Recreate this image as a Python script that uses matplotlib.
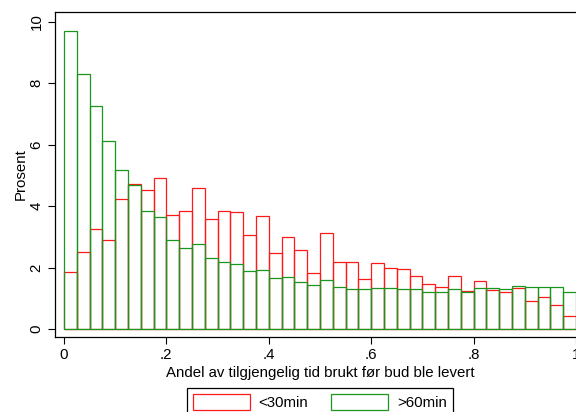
## overlaid histograms: share of available time used before bid was delivered
import numpy as np
import matplotlib.pyplot as plt
from matplotlib.patches import Patch

plt.rcParams['font.family'] = ['Liberation Sans', 'DejaVu Sans']

## bins (width .025 from 0 to 1)
bin_width = 0.025
bin_left  = np.arange(40)*bin_width

## percent per bin
pct_lt30 = [1.86, 2.50, 3.26, 2.89, 4.23, 4.73, 4.53, 4.92, 3.72, 3.83,
            4.59, 3.57, 3.83, 3.80, 3.07, 3.69, 2.48, 2.99, 2.56, 1.83,
            3.12, 2.17, 2.17, 1.63, 2.16, 2.00, 1.96, 1.74, 1.46, 1.36,
            1.72, 1.25, 1.56, 1.27, 1.22, 1.32, 0.91, 1.04, 0.78, 0.42]
pct_gt60 = [9.69, 8.31, 7.25, 6.12, 5.18, 4.69, 3.85, 3.64, 2.90, 2.64,
            2.76, 2.32, 2.19, 2.13, 1.90, 1.92, 1.67, 1.69, 1.53, 1.42,
            1.59, 1.38, 1.31, 1.29, 1.34, 1.34, 1.29, 1.29, 1.22, 1.22,
            1.29, 1.22, 1.32, 1.35, 1.29, 1.39, 1.36, 1.36, 1.38, 1.19]

series_names = ['<30min', '>60min']
red   = '#ff1a1a'
green = '#1a961f'

xticks      = [0, 0.2, 0.4, 0.6, 0.8, 1.0]
xticklabels = ['0', '.2', '.4', '.6', '.8', '1']
yticks      = [0, 2, 4, 6, 8, 10]

fs = 10.8

fig = plt.figure(figsize=(5.76, 4.12), dpi=100)
ax = fig.add_axes([0.095, 0.182, 0.921, 0.789])

ax.bar(bin_left, pct_lt30, width=bin_width, align='edge', fill=False,
       edgecolor=red, linewidth=0.9)
ax.bar(bin_left, pct_gt60, width=bin_width, align='edge', fill=False,
       edgecolor=green, linewidth=0.9)

ax.set_xlim(-0.018, 1.018)
ax.set_ylim(-0.26, 10.32)
ax.set_xticks(xticks)
ax.set_xticklabels(xticklabels)
ax.set_yticks(yticks)
ax.tick_params(axis='y', labelrotation=90, labelsize=fs, length=5, width=0.8, pad=3)
ax.tick_params(axis='x', labelsize=fs, length=5, width=0.8, pad=3)
for lab in ax.get_yticklabels():
    lab.set_va('center')
ax.set_xlabel('Andel av tilgjengelig tid brukt før bud ble levert', fontsize=fs, labelpad=3)
ax.set_ylabel('Prosent', fontsize=fs, labelpad=1)
for s in ax.spines.values():
    s.set_linewidth(0.9)

handles = [Patch(facecolor='none', edgecolor=red, linewidth=0.9),
           Patch(facecolor='none', edgecolor=green, linewidth=0.9)]
leg = fig.legend(handles, series_names, loc='upper center',
                 bbox_to_anchor=(319.6/576, 1-388/412), ncol=2, fontsize=fs,
                 fancybox=False, edgecolor='black', framealpha=1,
                 handlelength=3.8, handleheight=1.3, columnspacing=1.5,
                 borderpad=0.4, handletextpad=0.6, borderaxespad=0)
leg.get_frame().set_linewidth(0.9)

fig.savefig('out.png', dpi=100)
